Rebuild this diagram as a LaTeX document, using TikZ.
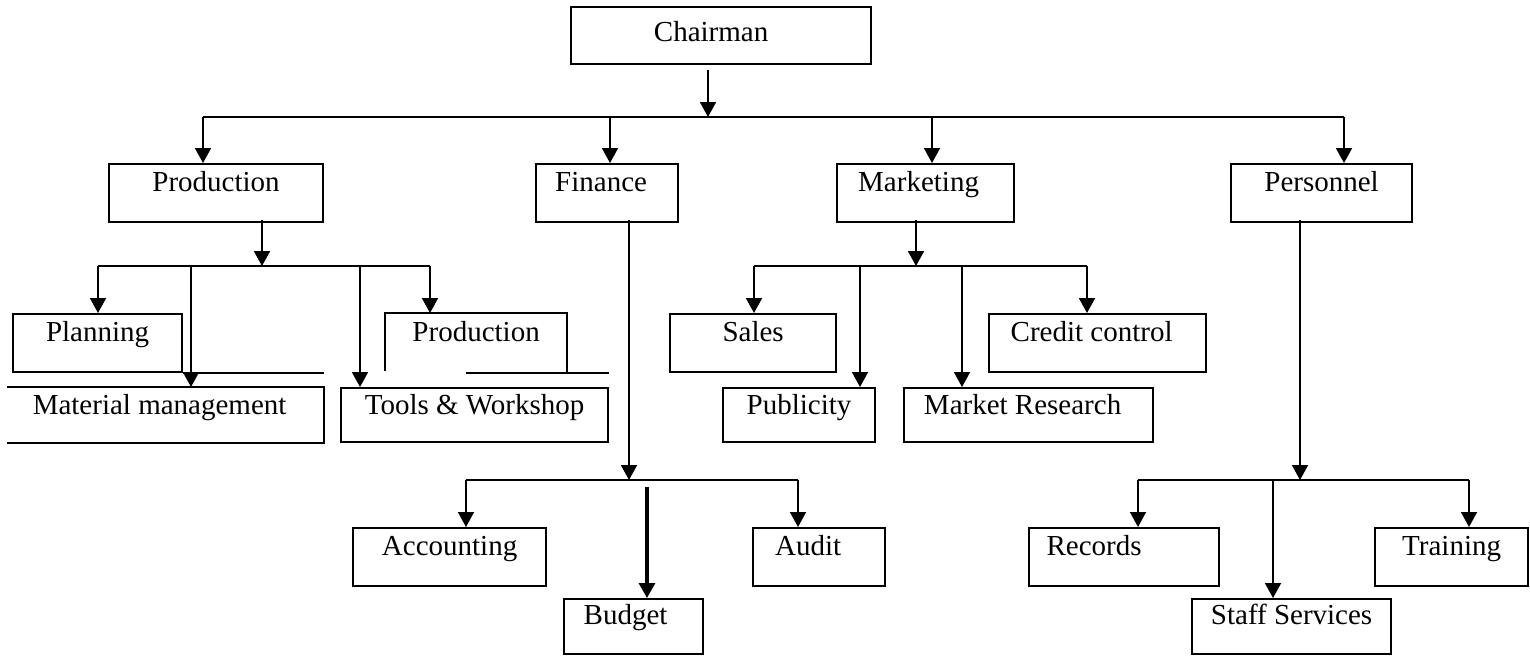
\documentclass[tikz,border=0pt]{standalone}
\usepackage{fontspec}
\setmainfont{Liberation Serif}
\usetikzlibrary{arrows.meta}

\begin{document}
\begin{tikzpicture}[x=.5pt,y=-.5pt,
    font=\fontsize{14.5pt}{17pt}\selectfont,
    box/.style={draw,line width=1.1pt,inner sep=0pt,anchor=north west,
                text height=13.5pt,text depth=15.5pt},
    lowbox/.style={box,text height=13pt,text depth=14pt},
    open/.style={draw=none},
    frame/.style={line width=1.1pt},
    wire/.style={line width=.9pt},
    arr/.style={wire,-{Triangle[length=7.5pt,width=8pt]}}]
\useasboundingbox (0,0) rectangle (1530,655);

% top and departments
\node [box,minimum width=150pt,text height=17pt,text depth=11.5pt]
                                  (chairman)   at ( 570,  6) {\hspace*{-10pt}Chairman};
\node [box,minimum width=107pt]   (production) at ( 108,163) {Production};
\node [box,minimum width=71pt]    (finance)    at ( 535,163) {\hspace*{-6pt}Finance};
\node [box,minimum width=88.5pt]  (marketing)  at ( 836,163) {\hspace*{-7pt}Marketing};
\node [box,minimum width=90.5pt]  (personnel)  at (1230,163) {Personnel};

% production units
\node [box,minimum width=84.5pt]  (planning)   at (  12,313) {Planning};
\node [box,open,minimum width=90pt] (produnit) at ( 385,313) {Production};
\node [lowbox,open,minimum width=157.5pt] (matmgmt) at (7,387) {\hspace*{-6pt}Material management};
\node [lowbox,minimum width=133.5pt] (tools)   at ( 340,387) {Tools \& Workshop};

% marketing units
\node [box,minimum width=83pt]    (sales)      at ( 669,313) {Sales};
\node [box,minimum width=108.5pt] (credit)     at ( 988,313) {\hspace*{-6pt}Credit control};
\node [lowbox,minimum width=76pt] (publicity)  at ( 722,387) {Publicity};
\node [lowbox,minimum width=124.5pt] (research) at ( 903,387) {\hspace*{-6pt}Market Research};

% finance units
\node [box,minimum width=96.5pt]  (accounting) at ( 352,527) {Accounting};
\node [box,minimum width=66pt]    (audit)      at ( 752,527) {\hspace*{-11pt}Audit};
\node [box,minimum width=69.5pt,text height=12.5pt,text depth=15pt]
                                  (budget)     at ( 563,598) {\hspace*{-8pt}Budget};

% personnel units
\node [box,minimum width=95pt]    (records)    at (1028,527) {\hspace*{-30pt}Records};
\node [box,minimum width=76.5pt]  (training)   at (1374,527) {Training};
\node [box,minimum width=99.5pt,text height=12.5pt,text depth=15pt]
                                  (staff)      at (1191,598) {Staff Services};

% half drawn boxes
\draw[frame]
    (matmgmt.north west) -- (matmgmt.north east)
    -- (matmgmt.south east) -- (matmgmt.south west);
\draw[frame]
    (produnit.south west) ++(0,-2) -- (produnit.north west)
    -- (produnit.north east) -- (produnit.south east);
\draw[frame]
    (produnit.south -| 466,0) -- (tools.east |- produnit.south);
\draw[frame]
    (planning.south east) -- (matmgmt.north east |- planning.south);

\coordinate (hub)     at ( 708,117);
\coordinate (prodhub) at ( 262,266);
\coordinate (markhub) at ( 916,266);
\coordinate (finhub)  at ( 629,480);
\coordinate (perhub)  at (1300,480);

% chairman
\draw[arr] (chairman.south -| hub) ++(0,5) -- (hub);
\draw[wire] (hub -| 203,0) -- (hub -| 1344,0);
\draw[arr] (hub -| 203,0)  -- (production.north -| 203,0);
\draw[arr] (hub -| 610,0)  -- (finance.north -| 610,0);
\draw[arr] (hub -| 932,0)  -- (marketing.north -| 932,0);
\draw[arr] (hub -| 1344,0) -- (personnel.north -| 1344,0);

% production
\draw[arr] (production.south -| prodhub) ++(0,-3) -- (prodhub);
\draw[wire] (prodhub -| 98,0) -- (prodhub -| 430,0);
\draw[arr] (prodhub -| 98,0)  -- (planning.north -| 98,0);
\draw[arr] (prodhub -| 191,0) -- (matmgmt.north -| 191,0);
\draw[arr] (prodhub -| 360,0) -- (tools.north -| 360,0);
\draw[arr] (prodhub -| 430,0) -- (produnit.north -| 430,0);

% marketing
\draw[arr] (marketing.south -| markhub) ++(0,-3) -- (markhub);
\draw[wire] (markhub -| 754,0) -- (markhub -| 1087,0);
\draw[arr] (markhub -| 754,0)  -- (sales.north -| 754,0);
\draw[arr] (markhub -| 860,0)  -- (publicity.north -| 860,0);
\draw[arr] (markhub -| 962,0)  -- (research.north -| 962,0);
\draw[arr] (markhub -| 1087,0) -- (credit.north -| 1087,0);

% finance
\draw[arr] (finance.south -| finhub) ++(0,-3) -- (finhub);
\draw[wire] (finhub -| 466,0) -- (finhub -| 798,0);
\draw[arr] (finhub -| 466,0) -- (accounting.north -| 466,0);
\draw[arr] (finhub -| 798,0) -- (audit.north -| 798,0);
\draw[arr,line width=1.6pt] (finhub -| 647,0) ++(0,7) -- (budget.north -| 647,0);

% personnel
\draw[arr] (personnel.south -| perhub) ++(0,-3) -- (perhub);
\draw[wire] (perhub -| 1138,0) -- (perhub -| 1469,0);
\draw[arr] (perhub -| 1138,0) -- (records.north -| 1138,0);
\draw[arr] (perhub -| 1273,0) -- (staff.north -| 1273,0);
\draw[arr] (perhub -| 1469,0) -- (training.north -| 1469,0);
\end{tikzpicture}
\end{document}
